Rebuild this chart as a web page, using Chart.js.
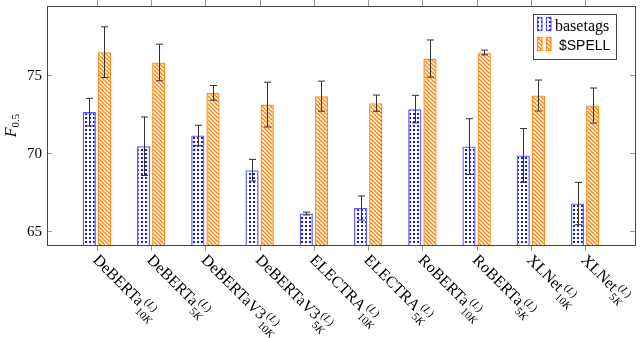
<!DOCTYPE html>
<html>
<head>
<meta charset="utf-8">
<script src="https://cdn.jsdelivr.net/npm/chart.js@4"></script>
<style>
  html, body { margin: 0; padding: 0; background: #fff; }
  #chart { display: block; }
</style>
</head>
<body>
<canvas id="chart" width="640" height="338"></canvas>
<script>
// Data
const models = ['DeBERTa', 'DeBERTa', 'DeBERTaV3', 'DeBERTaV3', 'ELECTRA', 'ELECTRA', 'RoBERTa', 'RoBERTa', 'XLNet', 'XLNet'];
const subsets = ['10', '5', '10', '5', '10', '5', '10', '5', '10', '5'];
const basetags = [72.62, 70.44, 71.13, 68.91, 66.14, 66.49, 72.81, 70.42, 69.85, 66.78];
const basetagsErr = [0.88, 1.87, 0.65, 0.69, 0.09, 0.77, 0.88, 1.78, 1.72, 1.35];
const spell = [76.45, 75.79, 73.85, 73.10, 73.64, 73.19, 76.04, 76.43, 73.68, 73.04];
const spellErr = [1.62, 1.17, 0.47, 1.43, 0.96, 0.52, 1.19, 0.15, 0.99, 1.12];
const yTicks = [65, 70, 75];
const seriesNames = ['basetags', '$SPELL'];

const SERIF = '"Liberation Serif", "DejaVu Serif", serif';
const SANS = '"Liberation Sans", "DejaVu Sans", sans-serif';

// Fill patterns
function dotPattern() {
    const c = document.createElement('canvas');
    c.width = 4; c.height = 4;
    const g = c.getContext('2d');
    g.fillStyle = 'rgb(20,20,255)';
    g.fillRect(1, 1, 2, 2);
    return g.createPattern(c, 'repeat');
}
function hatchPattern() {
    const c = document.createElement('canvas');
    c.width = 4; c.height = 4;
    const g = c.getContext('2d');
    g.strokeStyle = 'rgb(255,128,0)';
    g.lineWidth = 1.3;
    g.beginPath();
    g.moveTo(-1, -1); g.lineTo(5, 5);
    g.moveTo(-1, 3); g.lineTo(1, 5);
    g.moveTo(3, -1); g.lineTo(5, 1);
    g.stroke();
    return g.createPattern(c, 'repeat');
}
const blueFill = dotPattern();
const orangeFill = hatchPattern();
const blueEdge = 'rgba(40,40,255,0.75)';
const orangeEdge = 'rgb(255,140,30)';

// Error bars, frame, axes text and legend
const decor = {
    id: 'decor',
    afterDatasetsDraw(chart) {
        const ctx = chart.ctx;
        const y = chart.scales.y;
        const errs = [basetagsErr, spellErr];
        const vals = [basetags, spell];
        ctx.save();
        ctx.strokeStyle = '#333';
        ctx.lineWidth = 1;
        chart.data.datasets.forEach((ds, d) => {
            chart.getDatasetMeta(d).data.forEach((bar, i) => {
                const x = Math.round(bar.x) + 0.5;
                const hi = y.getPixelForValue(vals[d][i] + errs[d][i]);
                const lo = y.getPixelForValue(vals[d][i] - errs[d][i]);
                ctx.beginPath();
                ctx.moveTo(x, hi); ctx.lineTo(x, lo);
                ctx.moveTo(x - 3.5, hi); ctx.lineTo(x + 3.5, hi);
                ctx.moveTo(x - 3.5, lo); ctx.lineTo(x + 3.5, lo);
                ctx.stroke();
            });
        });
        ctx.restore();
    },
    afterDraw(chart) {
        const ctx = chart.ctx;
        const a = chart.chartArea;
        const xs = chart.scales.x, ys = chart.scales.y;
        ctx.save();

        // ticks
        ctx.strokeStyle = '#999';
        ctx.lineWidth = 1;
        ctx.beginPath();
        yTicks.forEach(v => {
            const py = Math.round(ys.getPixelForValue(v)) + 0.5;
            ctx.moveTo(a.left, py); ctx.lineTo(a.left + 5, py);
            ctx.moveTo(a.right, py); ctx.lineTo(a.right - 5, py);
        });
        models.forEach((m, i) => {
            const px = Math.round(xs.getPixelForValue(i)) + 0.5;
            ctx.moveTo(px, a.top); ctx.lineTo(px, a.top - 6);
            ctx.moveTo(px, a.bottom); ctx.lineTo(px, a.bottom + 6);
        });
        ctx.stroke();

        // frame
        ctx.strokeStyle = '#444';
        ctx.strokeRect(Math.round(a.left) + 0.5, Math.round(a.top) + 0.5,
            Math.round(a.right - a.left), Math.round(a.bottom - a.top));

        // y tick labels
        ctx.fillStyle = '#000';
        ctx.font = '15px ' + SERIF;
        ctx.textAlign = 'right';
        ctx.textBaseline = 'middle';
        yTicks.forEach(v => ctx.fillText(String(v), a.left - 5, ys.getPixelForValue(v) + 1));

        // y title F_{0.5}
        ctx.save();
        ctx.translate(16, (a.top + a.bottom) / 2);
        ctx.rotate(-Math.PI / 2);
        ctx.textAlign = 'left';
        ctx.textBaseline = 'alphabetic';
        ctx.font = 'italic 16px ' + SERIF;
        const fw = ctx.measureText('F').width;
        ctx.font = '11px ' + SERIF;
        const sw = ctx.measureText('0.5').width;
        const x0 = -(fw + sw) / 2;
        ctx.font = 'italic 16px ' + SERIF;
        ctx.fillText('F', x0, 0);
        ctx.font = '11px ' + SERIF;
        ctx.fillText('0.5', x0 + fw, 3);
        ctx.restore();

        // x labels, rotated
        models.forEach((m, i) => {
            const px = xs.getPixelForValue(i);
            ctx.save();
            ctx.translate(px + 3, a.bottom + 8);
            ctx.rotate(Math.PI / 4);
            ctx.textAlign = 'left';
            ctx.textBaseline = 'alphabetic';
            ctx.font = '16px ' + SERIF;
            ctx.fillText(m, 0, 11);
            let x = ctx.measureText(m).width + 1.5;
            // superscript (L)
            let sx = x;
            ctx.font = '11px ' + SERIF;
            ctx.fillText('(', sx, 4); sx += ctx.measureText('(').width;
            ctx.font = 'italic 11px ' + SERIF;
            ctx.fillText('L', sx, 4); sx += ctx.measureText('L').width + 0.5;
            ctx.font = '11px ' + SERIF;
            ctx.fillText(')', sx, 4);
            // subscript 10K / 5K
            let bx = x;
            ctx.font = '11px ' + SERIF;
            ctx.fillText(subsets[i], bx, 17); bx += ctx.measureText(subsets[i]).width;
            ctx.font = 'italic 11px ' + SERIF;
            ctx.fillText('K', bx, 17);
            ctx.restore();
        });

        // legend
        const lx = 533.5, ly = 14.5, lw = 83, lh = 45;
        ctx.fillStyle = '#fff';
        ctx.fillRect(lx, ly, lw, lh);
        ctx.strokeStyle = '#444';
        ctx.strokeRect(lx, ly, lw, lh);
        const fills = [blueFill, orangeFill];
        const edges = [blueEdge, orangeEdge];
        [0, 1].forEach(k => {
            const ry = ly + 3 + k * 20;
            [0, 9].forEach(dx => {
                ctx.fillStyle = fills[k];
                ctx.fillRect(lx + 4 + dx, ry, 4.5, 13);
                ctx.strokeStyle = edges[k];
                ctx.lineWidth = 1.2;
                ctx.strokeRect(lx + 4 + dx, ry, 4.5, 13);
            });
        });
        ctx.fillStyle = '#000';
        ctx.textAlign = 'left';
        ctx.textBaseline = 'alphabetic';
        ctx.font = '16px ' + SERIF;
        ctx.fillText(seriesNames[0], 555, 31);
        ctx.font = '14px ' + SANS;
        ctx.fillText(seriesNames[1], 559, 50);

        ctx.restore();
    }
};

new Chart(document.getElementById('chart'), {
    type: 'bar',
    data: {
        datasets: [
            {
                label: seriesNames[0],
                data: basetags.map((v, i) => ({x: i, y: v})),
                backgroundColor: blueFill,
                borderColor: blueEdge,
                borderWidth: 1.3,
                categoryPercentage: 0.56,
                barPercentage: 0.87
            },
            {
                label: seriesNames[1],
                data: spell.map((v, i) => ({x: i, y: v})),
                backgroundColor: orangeFill,
                borderColor: orangeEdge,
                borderWidth: 1.3,
                categoryPercentage: 0.56,
                barPercentage: 0.87
            }
        ]
    },
    options: {
        responsive: false,
        animation: false,
        devicePixelRatio: 1,
        layout: { padding: { left: 47, right: 5, top: 6, bottom: 93 } },
        plugins: { legend: { display: false }, tooltip: { enabled: false } },
        scales: {
            x: { type: 'linear', min: -0.92, max: 9.92, offset: false, display: false },
            y: { min: 64.13, max: 79.4, display: false }
        }
    },
    plugins: [decor]
});
</script>
</body>
</html>
